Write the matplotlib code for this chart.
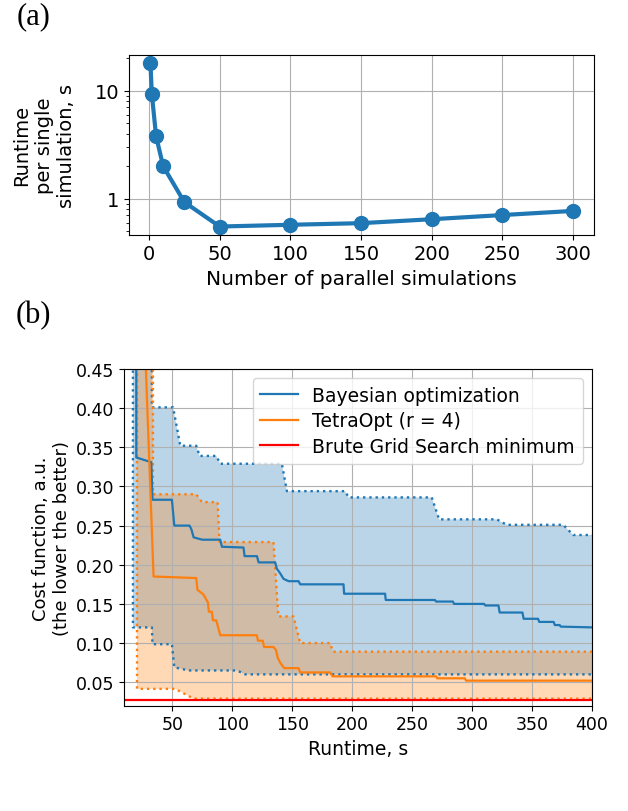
import numpy as np
import matplotlib
matplotlib.use("Agg")
import matplotlib.pyplot as plt
from matplotlib.ticker import FuncFormatter, FixedLocator

# ---------------- Panel (a) data ----------------
n_parallel = [1, 2, 5, 10, 25, 50, 100, 150, 200, 250, 300]
runtime_per_sim = [18.0, 9.3, 3.8, 2.0, 0.93, 0.552, 0.573, 0.593, 0.645, 0.705, 0.77]

# ---------------- Panel (b) data ----------------
# Bayesian optimization: mean, upper and lower bounds (vertices)
bo_mean_x = [20, 20, 32.5, 33.5, 49.7, 51.7, 64.4, 66, 67.8, 75, 90, 91.4, 109.4, 110.3,
             120.6, 122, 135.8, 137.2, 140, 142.8, 147, 155.3, 156.7, 192.8, 193.3, 227.5,
             228, 269, 270, 284, 285, 310, 311, 322, 323, 342, 343, 355, 356, 368, 369,
             373, 374, 400]
bo_mean_y = [0.60, 0.337, 0.331, 0.283, 0.283, 0.250, 0.250, 0.245, 0.235, 0.232, 0.232, 0.223,
             0.222, 0.211, 0.211, 0.203, 0.203, 0.195, 0.189, 0.182, 0.179, 0.179, 0.175,
             0.175, 0.163, 0.163, 0.155, 0.155, 0.153, 0.153, 0.150, 0.150, 0.148, 0.148,
             0.139, 0.139, 0.131, 0.131, 0.127, 0.127, 0.123, 0.123, 0.121, 0.120]

bo_up_x = [17, 33, 33, 50.7, 56.7, 70, 72.8, 86.7, 90, 141.4, 145.6, 194.2, 197, 266.4,
           272.5, 320.6, 328.9, 376, 384.4, 400]
bo_up_y = [0.60, 0.60, 0.401, 0.401, 0.352, 0.352, 0.339, 0.339, 0.329, 0.329, 0.294, 0.294,
           0.286, 0.286, 0.258, 0.258, 0.251, 0.251, 0.238, 0.238]

bo_lo_x = [17.2, 17.2, 33, 33.5, 49.7, 51.7, 63.6, 104, 110.8, 400]
bo_lo_y = [0.60, 0.120, 0.120, 0.0985, 0.0985, 0.069, 0.065, 0.065, 0.060, 0.060]

# TetraOpt (r = 4): mean, upper and lower bounds (vertices)
to_mean_x = [20, 34.4, 70, 71, 76, 79.7, 80.5, 83, 83.9, 86.7, 90, 120.5, 121.5, 125.5,
             126.5, 134.4, 136.5, 138, 140, 143.3, 155.3, 156.7, 181.7, 183.6, 270, 271,
             294, 295, 400]
to_mean_y = [0.78, 0.185, 0.183, 0.168, 0.162, 0.152, 0.140, 0.140, 0.129, 0.129, 0.110,
             0.110, 0.103, 0.103, 0.095, 0.095, 0.091, 0.081, 0.075, 0.068, 0.068, 0.0625,
             0.0625, 0.0575, 0.0575, 0.055, 0.055, 0.052, 0.052]

to_up_x = [20, 33.9, 33.9, 70, 74.7, 87.8, 89.4, 134.4, 138.5, 151.1, 156.7, 181.7, 183.9, 400]
to_up_y = [0.78, 0.78, 0.290, 0.290, 0.280, 0.280, 0.229, 0.229, 0.134, 0.134, 0.100, 0.100,
           0.089, 0.089]

to_lo_x = [20.6, 20.6, 52.5, 67.8, 400]
to_lo_y = [0.78, 0.0415, 0.0415, 0.029, 0.029]

brute_min = 0.0278

legend_labels = ["Bayesian optimization", "TetraOpt (r = 4)", "Brute Grid Search minimum"]

# ---------------- Figure ----------------
fig = plt.figure(figsize=(6.28, 8.12), dpi=100)
W, H = 628, 812

def ax_rect(l, r, t, b):
    return [l / W, 1 - b / H, (r - l) / W, (b - t) / H]

# Panel (a)
axa = fig.add_axes(ax_rect(129.3, 594, 56, 235.7))
axa.plot(n_parallel, runtime_per_sim, "-o", color="C0", lw=3, ms=10)
axa.set_yscale("log")
axa.set_xticks([0, 50, 100, 150, 200, 250, 300])
axa.yaxis.set_major_locator(FixedLocator([1, 10]))
axa.yaxis.set_major_formatter(FuncFormatter(lambda v, p: f"{v:g}"))
axa.grid(True, which="major")
axa.tick_params(labelsize=14)
axa.set_xlabel("Number of parallel simulations", fontsize=14.5)
axa.set_ylabel("Runtime\nper single\nsimulation, s", fontsize=14, labelpad=14)

# Panel (b)
axb = fig.add_axes(ax_rect(124.3, 592, 370, 706.7))
axb.fill(np.r_[bo_up_x, bo_lo_x[::-1]], np.r_[bo_up_y, bo_lo_y[::-1]],
         color="C0", alpha=0.3, lw=0)
axb.fill(np.r_[to_up_x, to_lo_x[::-1]], np.r_[to_up_y, to_lo_y[::-1]],
         color="C1", alpha=0.3, lw=0)
axb.plot(bo_up_x, bo_up_y, ":", color="C0", lw=1.7)
axb.plot(bo_lo_x, bo_lo_y, ":", color="C0", lw=1.7)
axb.plot(to_up_x, to_up_y, ":", color="C1", lw=1.7)
axb.plot(to_lo_x, to_lo_y, ":", color="C1", lw=1.7)
l1, = axb.plot(bo_mean_x, bo_mean_y, "-", color="C0", lw=1.6)
l2, = axb.plot(to_mean_x, to_mean_y, "-", color="C1", lw=1.6)
l3 = axb.axhline(brute_min, color="red", lw=1.6)
axb.set_xlim(10, 400)
axb.set_ylim(0.02, 0.45)
axb.set_xticks([50, 100, 150, 200, 250, 300, 350, 400])
axb.set_yticks([0.05, 0.10, 0.15, 0.20, 0.25, 0.30, 0.35, 0.40, 0.45])
axb.yaxis.set_major_formatter(FuncFormatter(lambda v, p: f"{v:.2f}"))
axb.grid(True)
axb.tick_params(labelsize=12.5)
axb.set_xlabel("Runtime, s", fontsize=13.5)
axb.set_ylabel("Cost function, a.u.\n(the lower the better)", fontsize=13)
axb.legend([l1, l2, l3], legend_labels, loc="upper right", fontsize=13.5,
           labelspacing=0.35)

fig.text(17 / W, 1 - 2 / H, "(a)", family="Liberation Serif", fontsize=22, ha="left", va="top")
fig.text(16 / W, 1 - 301 / H, "(b)", family="Liberation Serif", fontsize=22, ha="left", va="top")

fig.savefig("out.png", dpi=100)
